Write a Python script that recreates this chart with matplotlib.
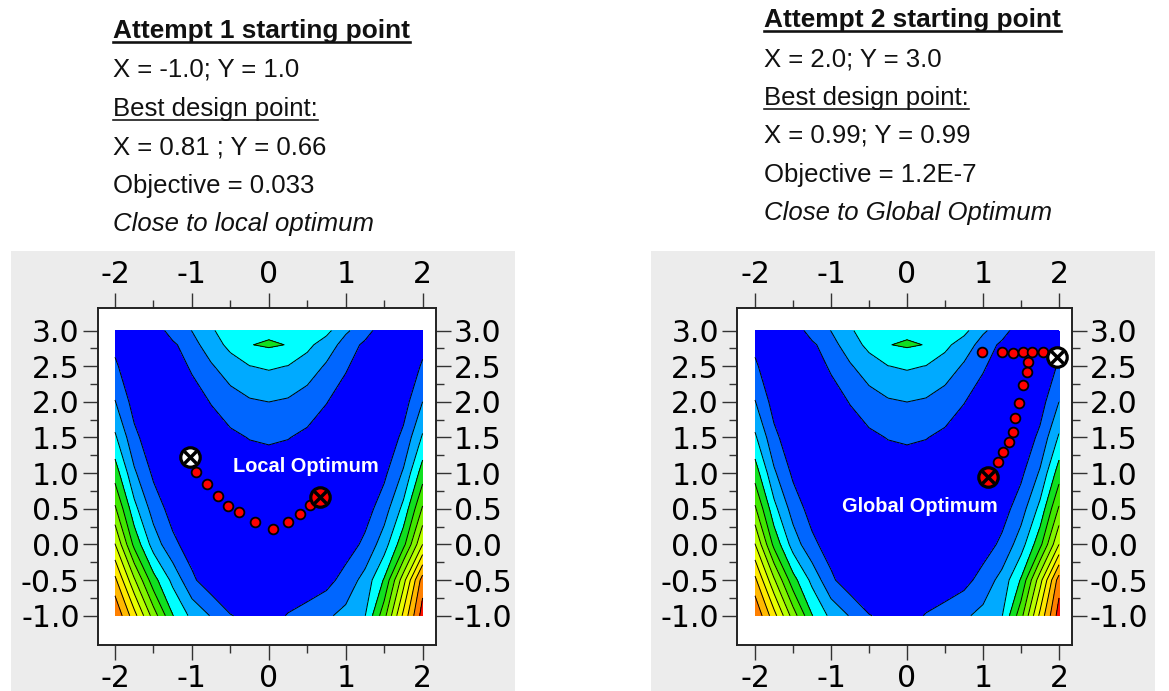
import numpy as np
import matplotlib
matplotlib.use("Agg")
import matplotlib.pyplot as plt
from matplotlib.patches import Rectangle
from matplotlib.lines import Line2D
from matplotlib.ticker import FormatStrFormatter

plt.rcParams['axes.unicode_minus'] = False

# objective surface sampled on a coarse grid (x across, y rows bottom to top)
grid_x = [-2, -1.75, -1.5, -1.25, -1, -0.75, -0.5, -0.25, 0,
          0.25, 0.5, 0.75, 1, 1.25, 1.5, 1.75, 2]
grid_y = [-1, -0.5, 0, 0.5, 1, 1.5, 2, 2.5, 2.8, 3]
obj = [
    [2390, 1880, 1310, 810, 548, 387, 208, 160, 110, 215, 290, 370, 455, 590, 1130, 1850, 2500],
    [2050, 1430, 875, 548, 240, 73, 40, 25, 20, 30, 60, 130, 280, 470, 820, 1520, 2300],
    [1609, 945, 513, 249, 104, 35, 9, 2, 1, 1, 7, 32, 100, 244, 507, 938, 1601],
    [1234, 664, 313, 118, 29, 3, 9, 21, 26, 20, 7, 0, 25, 113, 307, 657, 1226],
    [909, 433, 163, 37, 4, 22, 59, 89, 101, 88, 57, 19, 0, 32, 157, 426, 901],
    [634, 252, 63, 5, 29, 91, 159, 208, 226, 207, 157, 88, 25, 0, 57, 245, 626],
    [409, 120, 13, 24, 104, 210, 309, 377, 401, 376, 307, 207, 100, 19, 7, 113, 401],
    [234, 39, 13, 93, 229, 378, 509, 596, 626, 595, 507, 375, 225, 88, 7, 32, 226],
    [153, 14, 37, 158, 328, 504, 653, 793, 827, 793, 651, 501, 324, 153, 31, 7, 145],
    [109, 8, 63, 300, 404, 560, 759, 760, 750, 760, 757, 660, 430, 300, 57, 1, 101],
]
levels = list(range(0, 2601, 200))
band_colors = ['#0000FF', '#0066FF', '#00AAFF', '#00FFFF', '#10E020', '#40E800',
               '#80F400', '#B8FF00', '#E8FF00', '#FFE800', '#FFB800', '#FF8000',
               '#FF1000']

# optimizer iterations
run1_x = [-0.95, -0.80, -0.66, -0.53, -0.39, -0.18, 0.05, 0.25, 0.41, 0.53]
run1_y = [1.01, 0.85, 0.68, 0.54, 0.45, 0.31, 0.22, 0.31, 0.43, 0.55]
run1_start = (-1.02, 1.23)
run1_best = (0.67, 0.67)

run2_x = [0.99, 1.25, 1.39, 1.52, 1.65, 1.79, 1.59, 1.58, 1.52, 1.47,
          1.42, 1.39, 1.34, 1.26, 1.20]
run2_y = [2.70, 2.70, 2.68, 2.70, 2.70, 2.70, 2.56, 2.42, 2.23, 1.99,
          1.78, 1.58, 1.44, 1.30, 1.16]
run2_start = (1.97, 2.63)
run2_best = (1.06, 0.94)

x_major = [-2, -1, 0, 1, 2]
x_minor = [-1.5, -0.5, 0.5, 1.5]
y_major = [-1.0, -0.5, 0.0, 0.5, 1.0, 1.5, 2.0, 2.5, 3.0]
y_minor = [-0.75, -0.25, 0.25, 0.75, 1.25, 1.75, 2.25, 2.75]

left_lines = ["Attempt 1 starting point", "X = -1.0; Y = 1.0", "Best design point:",
              "X = 0.81 ; Y = 0.66", "Objective = 0.033", "Close to local optimum"]
right_lines = ["Attempt 2 starting point", "X = 2.0; Y = 3.0", "Best design point:",
               "X = 0.99; Y = 0.99", "Objective = 1.2E-7", "Close to Global Optimum"]

W, H = 1169, 691
fig = plt.figure(figsize=(W / 100, H / 100), dpi=100)
fig.patch.set_facecolor('white')


def px_rect(x0, y0, x1, y1):
    # pixel box (top-left origin) -> figure fraction rect
    return [x0 / W, 1 - y1 / H, (x1 - x0) / W, (y1 - y0) / H]


# grey panels behind each plot
for gx in (11, 651):
    fig.patches.append(Rectangle((gx / W, 0), 504 / W, (H - 251) / H,
                                 transform=fig.transFigure, facecolor='#ECECEC',
                                 edgecolor='none', zorder=-5))

X, Y = np.meshgrid(grid_x, grid_y)
Z = np.array(obj, dtype=float)


def draw_panel(rect, xlim, path_x, path_y, start, best, label, label_xy):
    ax = fig.add_axes(rect, zorder=2)
    ax.set_facecolor('white')
    ax.contourf(X, Y, Z, levels=levels, colors=band_colors, zorder=1)
    ax.contour(X, Y, Z, levels=levels[1:], colors='black', linewidths=0.7, zorder=2)

    ax.plot(path_x, path_y, 'o', ms=7, mfc='#FF0000', mec='black', mew=1.3, zorder=5)
    ax.plot(*start, 'o', ms=14, mfc='white', mec='black', mew=2.3, zorder=6)
    ax.plot(*start, 'x', ms=8.5, mec='black', mew=2.5, zorder=7)
    ax.plot(*best, 'o', ms=14, mfc='#FF0000', mec='black', mew=2.3, zorder=6)
    ax.plot(*best, 'x', ms=8.5, mec='black', mew=2.5, zorder=7)

    ax.text(label_xy[0], label_xy[1], label, color='white', fontsize=14.4,
            fontweight='bold', family='Liberation Sans', ha='center', va='center',
            zorder=8)

    ax.set_xticks(x_major)
    ax.set_xticks(x_minor, minor=True)
    ax.set_yticks(y_major)
    ax.set_yticks(y_minor, minor=True)
    ax.yaxis.set_major_formatter(FormatStrFormatter('%.1f'))
    ax.xaxis.set_major_formatter(FormatStrFormatter('%d'))
    ax.tick_params(which='both', direction='out', top=True, right=True,
                   labeltop=True, labelright=True, color='#333333', width=1.0,
                   labelsize=21.5)
    ax.tick_params(which='major', length=10.5)
    ax.tick_params(which='minor', length=5.5)
    ax.tick_params(axis='y', which='major', pad=2.5)
    ax.tick_params(axis='x', which='major', pad=3)
    ax.set_xlim(*xlim)
    ax.set_ylim(-1.41, 3.32)
    for s in ax.spines.values():
        s.set_linewidth(1.4)
        s.set_color('#222222')
    return ax


draw_panel(px_rect(97.7, 307.7, 435.7, 645), (-2.225, 2.17),
           run1_x, run1_y, run1_start, run1_best, 'Local Optimum', (0.48, 1.09))
draw_panel(px_rect(737, 307.7, 1071.7, 645), (-2.237, 2.167),
           run2_x, run2_y, run2_start, run2_best, 'Global Optimum', (0.17, 0.53))

# result summaries above the plots
text_objs = []


def write_block(lines, x0, baselines):
    for i, (s, yb) in enumerate(zip(lines, baselines)):
        kw = dict(family='Liberation Sans', fontsize=18.5, color='#111111',
                  va='baseline', ha='left')
        if i == 0:
            kw['fontweight'] = 'bold'
            kw['fontsize'] = 18.9
        if i == 5:
            kw['style'] = 'italic'
        t = fig.text(x0 / W, 1 - yb / H, s, **kw)
        if i in (0, 2):
            text_objs.append((t, yb, 2.6 if i == 0 else 1.6))


write_block(left_lines, 113, [38, 77, 116, 155, 193, 231])
write_block(right_lines, 764, [27, 66, 105, 143, 182, 220])

fig.canvas.draw()
renderer = fig.canvas.get_renderer()
for t, yb, lw in text_objs:
    bb = t.get_window_extent(renderer)
    yl = 1 - (yb + 4) / H
    fig.lines.append(Line2D([bb.x0 / W, bb.x1 / W], [yl, yl], lw=lw * 0.72,
                            color='#111111', transform=fig.transFigure))

fig.savefig('out.png', dpi=100)
